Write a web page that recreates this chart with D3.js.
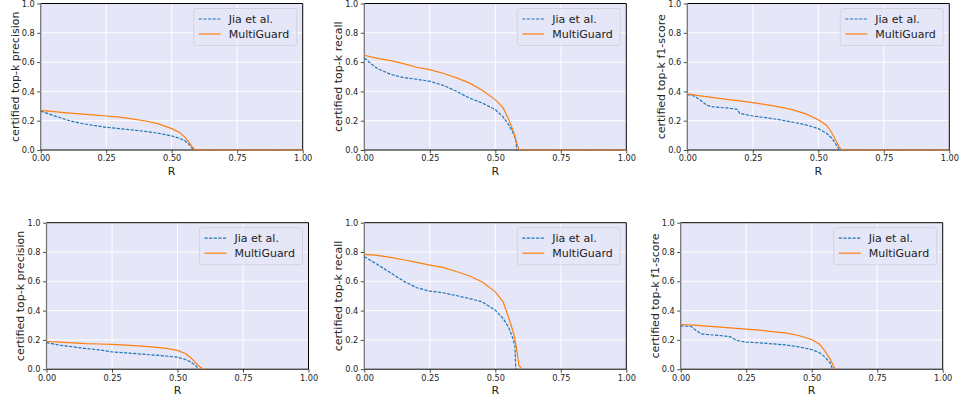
<!DOCTYPE html>
<html>
<head>
<meta charset="utf-8">
<script src="https://cdn.jsdelivr.net/npm/d3@7"></script>
<style>
  body { margin: 0; background: #fff; }
  svg { display: block; font-family: "DejaVu Sans", sans-serif; }
</style>
</head>
<body>
<svg id="chart" width="961" height="402"></svg>
<script>
// [R, value] pairs
const precTopJia = [[0,0.265],[0.05,0.235],[0.1,0.205],[0.15,0.183],[0.2,0.168],[0.25,0.155],[0.3,0.146],[0.35,0.137],[0.4,0.127],[0.45,0.114],[0.5,0.096],[0.53,0.08],[0.55,0.063],[0.565,0.04],[0.575,0.018],[0.585,0],[1,0]];
const precTopMG = [[0,0.271],[0.05,0.262],[0.1,0.254],[0.15,0.247],[0.2,0.24],[0.25,0.232],[0.3,0.224],[0.35,0.213],[0.4,0.198],[0.45,0.178],[0.5,0.146],[0.53,0.12],[0.55,0.088],[0.565,0.055],[0.58,0.018],[0.59,0],[1,0]];
const recallTopJia = [[0,0.628],[0.025,0.59],[0.05,0.556],[0.1,0.517],[0.15,0.494],[0.2,0.483],[0.25,0.469],[0.3,0.442],[0.35,0.403],[0.4,0.355],[0.45,0.321],[0.5,0.276],[0.53,0.225],[0.55,0.175],[0.57,0.11],[0.578,0.07],[0.582,0],[1,0]];
const recallTopMG = [[0,0.647],[0.05,0.626],[0.1,0.61],[0.15,0.59],[0.2,0.565],[0.25,0.549],[0.3,0.524],[0.35,0.494],[0.4,0.458],[0.45,0.408],[0.5,0.344],[0.53,0.287],[0.55,0.214],[0.57,0.123],[0.58,0.055],[0.59,0.005],[0.6,0],[1,0]];
const f1TopJia = [[0,0.378],[0.025,0.369],[0.05,0.34],[0.075,0.305],[0.1,0.294],[0.15,0.287],[0.19,0.278],[0.2,0.25],[0.25,0.232],[0.3,0.221],[0.35,0.207],[0.4,0.191],[0.45,0.173],[0.5,0.146],[0.53,0.116],[0.55,0.084],[0.57,0.032],[0.58,0],[1,0]];
const f1TopMG = [[0,0.383],[0.05,0.369],[0.1,0.358],[0.15,0.346],[0.2,0.335],[0.25,0.323],[0.3,0.31],[0.35,0.294],[0.4,0.276],[0.45,0.248],[0.5,0.207],[0.53,0.171],[0.55,0.123],[0.57,0.055],[0.58,0.02],[0.59,0],[1,0]];

const precBotJia = [[0,0.182],[0.05,0.164],[0.1,0.153],[0.15,0.141],[0.2,0.132],[0.25,0.118],[0.3,0.112],[0.35,0.105],[0.4,0.098],[0.45,0.091],[0.5,0.082],[0.53,0.066],[0.55,0.05],[0.57,0.025],[0.58,0]];
const precBotMG = [[0,0.189],[0.05,0.185],[0.1,0.18],[0.15,0.175],[0.2,0.172],[0.25,0.169],[0.3,0.164],[0.35,0.159],[0.4,0.153],[0.45,0.144],[0.5,0.128],[0.53,0.107],[0.55,0.08],[0.57,0.043],[0.58,0.025],[0.59,0.009],[0.6,0]];
const recallBotJia = [[0,0.768],[0.05,0.715],[0.1,0.658],[0.15,0.601],[0.2,0.556],[0.25,0.533],[0.3,0.522],[0.35,0.503],[0.4,0.483],[0.45,0.46],[0.5,0.403],[0.53,0.346],[0.55,0.289],[0.565,0.22],[0.575,0.16],[0.578,0]];
const recallBotMG = [[0,0.784],[0.05,0.777],[0.1,0.763],[0.15,0.747],[0.2,0.729],[0.25,0.711],[0.3,0.695],[0.35,0.667],[0.4,0.638],[0.45,0.595],[0.5,0.528],[0.53,0.46],[0.55,0.358],[0.57,0.244],[0.58,0.153],[0.59,0.027],[0.6,0]];
const f1BotJia = [[0,0.296],[0.04,0.292],[0.06,0.262],[0.08,0.241],[0.1,0.237],[0.15,0.23],[0.19,0.221],[0.21,0.198],[0.25,0.185],[0.3,0.18],[0.35,0.173],[0.4,0.166],[0.45,0.153],[0.5,0.134],[0.53,0.112],[0.55,0.084],[0.57,0.043],[0.58,0]];
const f1BotMG = [[0,0.305],[0.05,0.301],[0.1,0.294],[0.15,0.287],[0.2,0.28],[0.25,0.273],[0.3,0.267],[0.35,0.257],[0.4,0.248],[0.45,0.23],[0.5,0.203],[0.53,0.171],[0.55,0.125],[0.57,0.071],[0.58,0.034],[0.59,0]];

const xTicks = [0, 0.25, 0.5, 0.75, 1];
const yTicks = [0, 0.2, 0.4, 0.6, 0.8, 1];
const seriesNames = ["Jia et al.", "MultiGuard"];
const yLabels = ["certified top-k precision", "certified top-k recall", "certified top-k f1-score"];
const xLabel = "R";

// layout: plot-area boxes of the six panels
const W = 262, H = 146.5;
const PANELS = [
  { left: 40.7, top: 3.5, label: yLabels[0], data: [precTopJia, precTopMG] },
  { left: 364.3, top: 3.5, label: yLabels[1], data: [recallTopJia, recallTopMG] },
  { left: 687.3, top: 3.5, label: yLabels[2], data: [f1TopJia, f1TopMG] },
  { left: 46.5, top: 222.7, label: yLabels[0], data: [precBotJia, precBotMG] },
  { left: 364.3, top: 222.7, label: yLabels[1], data: [recallBotJia, recallBotMG] },
  { left: 680.7, top: 222.7, label: yLabels[2], data: [f1BotJia, f1BotMG] }
];
const COLORS = ["#1f77b4", "#ff7f0e"];
const DASH = ["3.2,1.4", null];
const BG = "#e5e6f8";

const svg = d3.select("#chart");

PANELS.forEach(p => {
  const x = d3.scaleLinear([0, 1], [0, W]);
  const y = d3.scaleLinear([0, 1], [H, 0]);
  const g = svg.append("g").attr("transform", `translate(${p.left},${p.top})`);

  g.append("rect").attr("width", W).attr("height", H).attr("fill", BG);

  // grid
  g.selectAll(".gx").data(xTicks).enter().append("line")
    .attr("x1", d => x(d)).attr("x2", d => x(d))
    .attr("y1", 0).attr("y2", H)
    .attr("stroke", "#fff").attr("stroke-width", 1);
  g.selectAll(".gy").data(yTicks).enter().append("line")
    .attr("y1", d => y(d)).attr("y2", d => y(d))
    .attr("x1", 0).attr("x2", W)
    .attr("stroke", "#fff").attr("stroke-width", 1);

  // axes
  const xAxis = g.append("g").attr("transform", `translate(0,${H})`)
    .call(d3.axisBottom(x).tickValues(xTicks).tickFormat(d3.format(".2f")).tickSize(3.5).tickPadding(2));
  const yAxis = g.append("g")
    .call(d3.axisLeft(y).tickValues(yTicks).tickFormat(d3.format(".1f")).tickSize(3.5).tickPadding(2.5));
  [xAxis, yAxis].forEach(a => {
    a.select(".domain").remove();
    a.selectAll("text").attr("font-size", 8.2).attr("fill", "#222")
      .attr("font-family", "DejaVu Sans");
    a.selectAll("line").attr("stroke", "#222").attr("stroke-width", 0.8);
  });

  // spines
  g.append("line").attr("x1", 0).attr("x2", W).attr("y1", 0).attr("y2", 0).attr("stroke", "#000").attr("stroke-width", 1);
  g.append("line").attr("x1", W).attr("x2", W).attr("y1", 0).attr("y2", H).attr("stroke", "#000").attr("stroke-width", 1);
  g.append("line").attr("x1", 0).attr("x2", W).attr("y1", H).attr("y2", H).attr("stroke", "#000").attr("stroke-width", 1);
  g.append("line").attr("x1", 0).attr("x2", 0).attr("y1", 0).attr("y2", H).attr("stroke", "#777").attr("stroke-width", 1.3);

  // curves
  const line = d3.line().x(d => x(d[0])).y(d => y(d[1]));
  p.data.forEach((s, i) => {
    g.append("path").datum(s)
      .attr("d", line)
      .attr("fill", "none")
      .attr("stroke", COLORS[i])
      .attr("stroke-width", 1.2)
      .attr("stroke-dasharray", DASH[i]);
  });

  // legend
  const lg = g.append("g").attr("transform", `translate(${W - 109},5)`);
  lg.append("rect").attr("width", 103).attr("height", 37).attr("rx", 2)
    .attr("fill", BG).attr("fill-opacity", 0.8)
    .attr("stroke", "#cfcfd8").attr("stroke-width", 0.8);
  seriesNames.forEach((n, i) => {
    const yy = 10.5 + i * 15;
    lg.append("line").attr("x1", 5).attr("x2", 27).attr("y1", yy).attr("y2", yy)
      .attr("stroke", COLORS[i]).attr("stroke-width", 1.2)
      .attr("stroke-dasharray", DASH[i]);
    lg.append("text").attr("x", 35).attr("y", yy).attr("dy", "0.36em")
      .attr("font-size", 11).attr("fill", "#222").text(n);
  });

  // labels
  g.append("text")
    .attr("x", W / 2).attr("y", H + 25)
    .attr("text-anchor", "middle").attr("font-size", 11).attr("fill", "#222")
    .text(xLabel);
  g.append("text")
    .attr("transform", `translate(-26,${H / 2}) rotate(-90)`)
    .attr("dy", "0.35em")
    .attr("text-anchor", "middle").attr("font-size", 11).attr("fill", "#222")
    .text(p.label);
});
</script>
</body>
</html>
